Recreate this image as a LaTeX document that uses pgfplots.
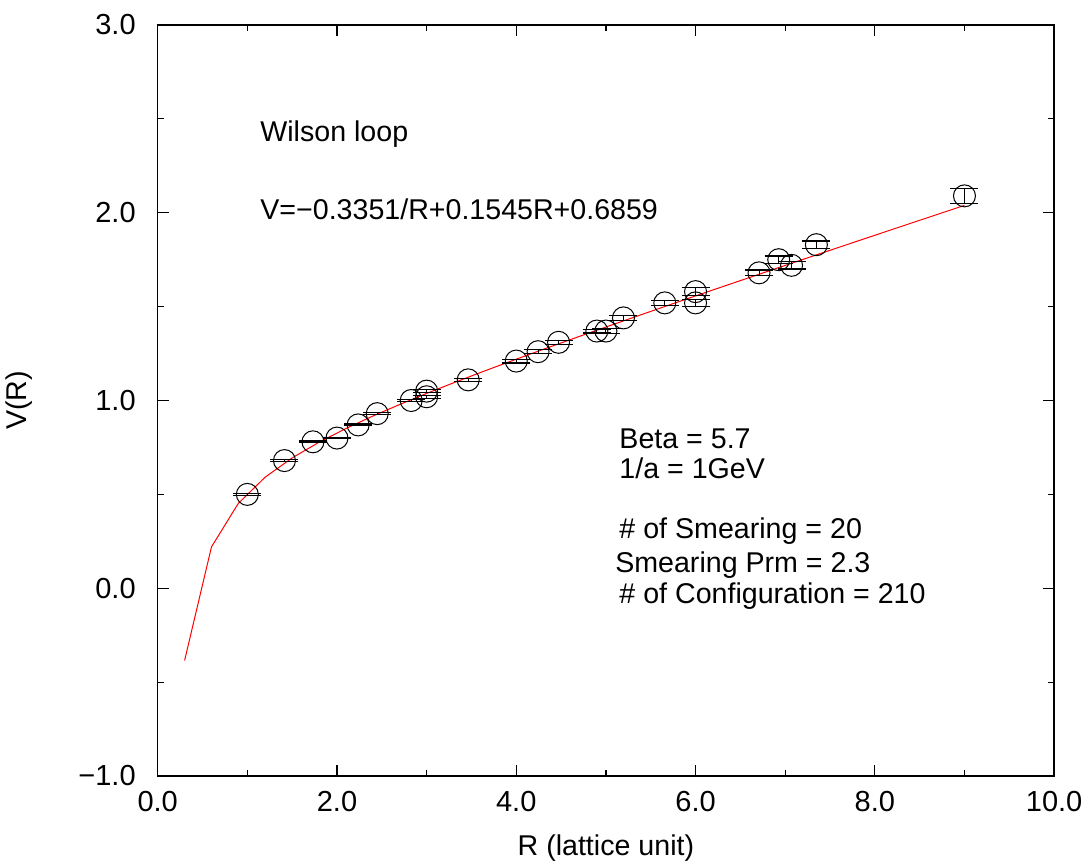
\documentclass[border=0pt]{standalone}
\usepackage{pgfplots}
\usepackage{pgfplotstable}
\pgfplotsset{compat=1.18}
\usepackage{fontspec}
\setmainfont{Liberation Sans}

\pgfplotstableread{
R V e
1.000 0.50 0.004
1.414 0.68 0.004
1.732 0.78 0.004
2.000 0.80 0.004
2.236 0.87 0.005
2.449 0.93 0.005
2.828 1.00 0.006
3.000 1.05 0.008
3.000 1.02 0.008
3.464 1.11 0.008
4.000 1.21 0.010
4.243 1.26 0.010
4.472 1.31 0.010
4.899 1.37 0.010
5.000 1.37 0.012
5.196 1.44 0.012
5.657 1.52 0.012
6.000 1.58 0.020
6.000 1.52 0.020
6.708 1.68 0.015
6.928 1.75 0.020
7.071 1.72 0.020
7.348 1.83 0.020
9.000 2.09 0.040
}\datatable

\pgfplotstableread{
R V
0.3 -0.3848
0.6 0.2201
0.9 0.4526
1.2 0.5921
1.5 0.6943
1.8 0.7778
2.1 0.8508
2.4 0.9171
2.7 0.9789
3.0 1.0377
3.3 1.0942
3.6 1.1490
3.9 1.2025
4.2 1.2550
4.5 1.3067
4.8 1.3577
5.1 1.4081
5.4 1.4581
5.7 1.5078
6.0 1.5570
6.3 1.6061
6.6 1.6548
6.9 1.7034
7.2 1.7518
7.5 1.8000
7.8 1.8480
8.1 1.8960
8.4 1.9438
8.7 1.9915
9.0 2.0392
}\fittable

\begin{document}
\begin{tikzpicture}
\useasboundingbox (-78.85pt,-43.5pt) rectangle (466.15pt,388pt);
\begin{axis}[
  at={(0,0)}, anchor=south west,
  scale only axis, width=448.2pt, height=375.5pt,
  xmin=0, xmax=10, ymin=-1, ymax=3,
  xtick={0,2,4,6,8,10}, xticklabels={0.0,2.0,4.0,6.0,8.0,10.0},
  minor xtick={1,3,5,7,9},
  ytick={-1,0,1,2,3}, yticklabels={−1.0,0.0,1.0,2.0,3.0},
  minor ytick={-0.5,0.5,1.5,2.5},
  tick align=inside, major tick length=5.5pt, minor tick length=3pt,
  tick style={black, line width=0.6pt},
  axis line style={line width=0.75pt},
  ticklabel style={font=\fontsize{14.5}{17}\selectfont},
  xticklabel style={yshift=-4pt},
  yticklabel style={xshift=-7.5pt},
  label style={font=\fontsize{14.3}{17}\selectfont},
  xlabel={R (lattice unit)}, ylabel={V(R)},
  xlabel style={at={(axis description cs:0.5,-0.0959)}, anchor=center},
  ylabel style={at={(axis description cs:-0.1543,0.5)}, anchor=center},
  clip=false,
]
\addplot[red, line width=0.5pt, no marks] table[x=R,y=V]{\fittable};
\addplot[black, only marks, mark=o, mark size=5.5pt, mark options={line width=0.5pt},
  error bars/.cd, y dir=both, y explicit,
  error mark=-, error mark options={rotate=90, mark size=7pt, line width=0.6pt},
  error bar style={line width=0.5pt}]
  table[x=R,y=V,y error=e]{\datatable};
\begin{scope}[font=\fontsize{14.3}{17}\selectfont]
\node[anchor=base west, inner sep=0pt] at (axis cs:1.141,2.381) {Wilson loop};
\node[anchor=base west, inner sep=0pt] at (axis cs:1.141,1.965) {V=−0.3351/R+0.1545R+0.6859};
\node[anchor=base west, inner sep=0pt] at (axis cs:5.147,0.746) {Beta = 5.7};
\node[anchor=base west, inner sep=0pt] at (axis cs:5.147,0.586) {1/a = 1GeV};
\node[anchor=base west, inner sep=0pt] at (axis cs:5.147,0.266) {\# of Smearing = 20};
\node[anchor=base west, inner sep=0pt] at (axis cs:5.10,0.085) {Smearing Prm = 2.3};
\node[anchor=base west, inner sep=0pt] at (axis cs:5.147,-0.080) {\# of Configuration = 210};
\end{scope}
\end{axis}
\end{tikzpicture}
\end{document}
